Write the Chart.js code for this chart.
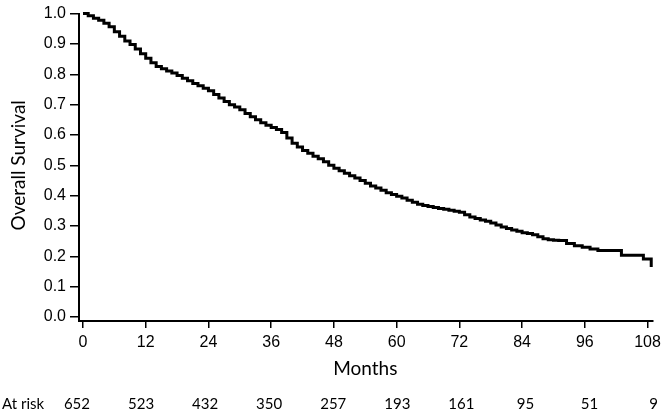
<!DOCTYPE html>
<html>
<head>
<meta charset="utf-8">
<script src="https://cdn.jsdelivr.net/npm/chart.js@4"></script>
<style>
  html, body { margin: 0; padding: 0; background: #fff; }
  #wrap { width: 666px; height: 415px; }
</style>
</head>
<body>
<div id="wrap"><canvas id="kmChart" width="666" height="415"></canvas></div>
<script>
// time of each step (months) and survival after the step
const months = [0, 1, 2, 3, 4, 5, 6, 7, 8, 9, 10, 11, 12, 13, 14, 15, 16, 17, 18, 19,
    20, 21, 22, 23, 24, 25, 26, 27, 28, 29, 30, 31, 32, 33, 34, 35, 36, 37, 38, 39,
    40, 41, 42, 43, 44, 45, 46, 47, 48, 49, 50, 51, 52, 53, 54, 55, 56, 57, 58, 59,
    60, 61, 62, 63, 64, 65, 66, 67, 68, 69, 70, 71, 72, 73, 74, 75, 76, 77, 78, 79,
    80, 81, 82, 83, 84, 85, 86, 87, 88, 89, 90, 91, 92.5, 94, 95.5, 97, 98.5, 103, 107.2, 108.7];
const survival = [1.0, 0.993, 0.985, 0.978, 0.968, 0.957, 0.940, 0.925, 0.910, 0.898,
    0.883, 0.868, 0.853, 0.838, 0.826, 0.818, 0.811, 0.804, 0.796, 0.787,
    0.779, 0.770, 0.762, 0.754, 0.746, 0.733, 0.722, 0.710, 0.700, 0.692,
    0.683, 0.671, 0.660, 0.650, 0.640, 0.632, 0.625, 0.618, 0.608, 0.590,
    0.573, 0.560, 0.549, 0.540, 0.530, 0.522, 0.512, 0.500, 0.490, 0.482,
    0.474, 0.466, 0.458, 0.450, 0.441, 0.432, 0.425, 0.418, 0.410, 0.404,
    0.398, 0.392, 0.385, 0.378, 0.372, 0.368, 0.364, 0.361, 0.358, 0.355,
    0.352, 0.349, 0.345, 0.337, 0.330, 0.325, 0.320, 0.316, 0.310, 0.303,
    0.297, 0.292, 0.287, 0.283, 0.278, 0.275, 0.271, 0.265, 0.258, 0.255,
    0.253, 0.252, 0.242, 0.235, 0.230, 0.224, 0.219, 0.204, 0.191, 0.165];

const xTicks = [0, 12, 24, 36, 48, 60, 72, 84, 96, 108];
const yTicks = [0, 0.1, 0.2, 0.3, 0.4, 0.5, 0.6, 0.7, 0.8, 0.9, 1.0];
const atRisk = [652, 523, 432, 350, 257, 193, 161, 95, 51, 9];

const calibriLike = "Lato, 'Open Sans', sans-serif";
const arialLike = "'Liberation Sans', Arial, sans-serif";

Chart.defaults.font.family = arialLike;
Chart.defaults.font.size = 16;
Chart.defaults.color = "#000";

// extra texts: axis titles and the number-at-risk row
const textPlugin = {
    id: "kmText",
    afterDraw(chart) {
        const ctx = chart.ctx;
        const xs = chart.scales.x, ys = chart.scales.y;
        ctx.save();
        ctx.fillStyle = "#000";
        ctx.textBaseline = "middle";

        // y title
        ctx.save();
        ctx.translate(19, (ys.getPixelForValue(0) + ys.getPixelForValue(1)) / 2);
        ctx.rotate(-Math.PI / 2);
        ctx.textAlign = "center";
        ctx.font = "19px " + calibriLike;
        ctx.fillText("Overall Survival", 0, 0);
        ctx.restore();

        // x title
        ctx.textAlign = "center";
        ctx.font = "19px " + calibriLike;
        ctx.fillText("Months", (xs.getPixelForValue(0) + xs.getPixelForValue(108)) / 2, 369);

        // at risk row
        ctx.font = "15px " + calibriLike;
        ctx.textAlign = "left";
        ctx.fillText("At risk", 2, 404);
        ctx.textAlign = "center";
        const left = xs.getPixelForValue(0) - 6, right = xs.getPixelForValue(108) + 6;
        atRisk.forEach((n, i) => {
            ctx.fillText(String(n), left + (right - left) * xTicks[i] / 108, 404);
        });
        ctx.restore();
    }
};

const ctx = document.getElementById("kmChart").getContext("2d");
new Chart(ctx, {
    type: "line",
    data: {
        datasets: [{
            label: "Overall Survival",
            data: months.map((m, i) => ({ x: m, y: survival[i] })),
            borderColor: "#000",
            borderWidth: 3,
            stepped: true,
            pointRadius: 0,
            fill: false,
            clip: false
        }]
    },
    options: {
        responsive: false,
        animation: false,
        layout: { padding: { top: 7, right: 10, left: 0, bottom: 0 } },
        plugins: { legend: { display: false }, tooltip: { enabled: false } },
        scales: {
            x: {
                type: "linear",
                min: -0.76,
                max: 108.9,
                afterBuildTicks: s => { s.ticks = xTicks.map(v => ({ value: v })); },
                afterFit: s => { s.height = 94; },
                grid: { drawOnChartArea: false, drawTicks: true, tickLength: 7, color: "#000", lineWidth: 1.5 },
                border: { display: true, color: "#000", width: 2 },
                ticks: {
                    color: "#000",
                    padding: 5,
                    maxRotation: 0,
                    autoSkip: false,
                    font: { family: arialLike, size: 16 },
                    callback: v => String(v)
                }
            },
            y: {
                type: "linear",
                min: -0.013,
                max: 1.0,
                afterBuildTicks: s => { s.ticks = yTicks.map(v => ({ value: v })); },
                afterFit: s => { s.width = 79; },
                grid: { drawOnChartArea: false, drawTicks: true, tickLength: 9, color: "#000", lineWidth: 1.5 },
                border: { display: true, color: "#000", width: 2 },
                ticks: {
                    color: "#000",
                    padding: 4,
                    autoSkip: false,
                    font: { family: arialLike, size: 16 },
                    callback: v => Number(v).toFixed(1)
                }
            }
        }
    },
    plugins: [textPlugin]
});
</script>
</body>
</html>
